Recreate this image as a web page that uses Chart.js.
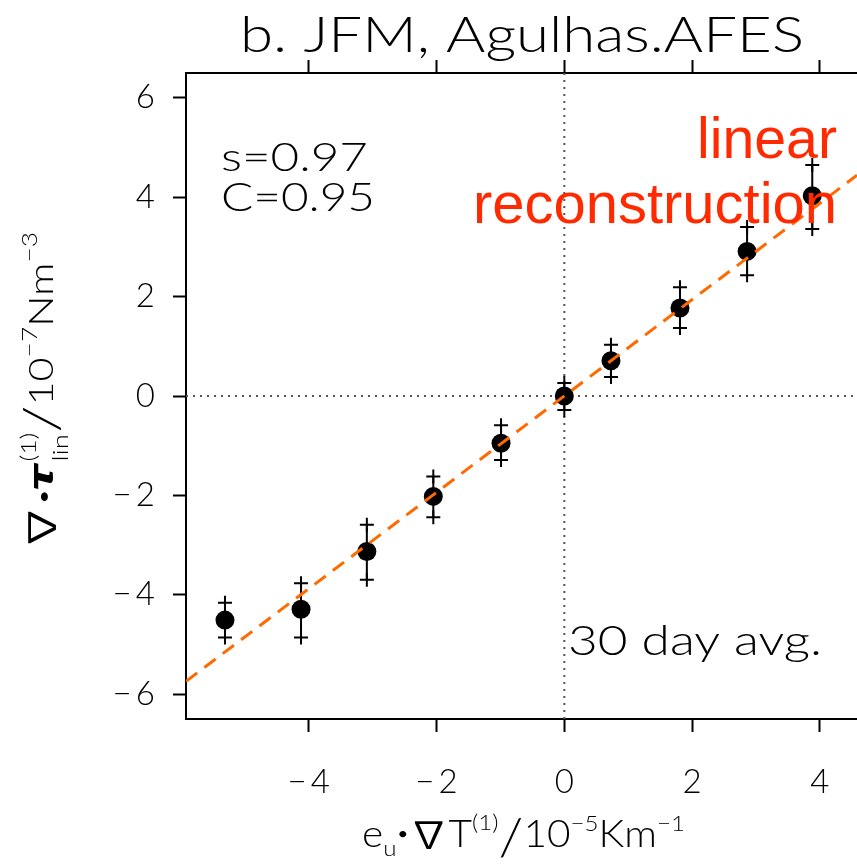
<!DOCTYPE html>
<html><head><meta charset="utf-8">
<script src="https://cdn.jsdelivr.net/npm/chart.js@4"></script>
<style>html,body{margin:0;padding:0;background:#fff;} canvas{display:block;}</style>
</head><body>
<canvas id="c" width="857" height="867"></canvas>
<script>
// ---- data ----
const xValues = [-5.31, -4.12, -3.09, -2.05, -0.99, 0.00, 0.73, 1.81, 2.86, 3.88];
const yValues = [-4.51, -4.29, -3.13, -2.02, -0.95, 0.00, 0.71, 1.77, 2.91, 4.03];
const yUpper  = [-4.16, -3.77, -2.59, -1.62, -0.59, 0.26, 1.03, 2.19, 3.40, 4.65];
const yLower  = [-4.86, -4.86, -3.70, -2.44, -1.29, -0.28, 0.38, 1.37, 2.43, 3.36];
const fitSlope = 0.97;
const xTicks = [-4, -2, 0, 2, 4];
const yTicks = [-6, -4, -2, 0, 2, 4, 6];
const xRange = [-5.92, 4.58];
const yRange = [-6.5, 6.5];
const titleText = "b. JFM, Agulhas.AFES";
const statLines = ["s=0.97", "C=0.95"];
const noteText = "30 day avg.";
const fitLabel = ["linear", "reconstruction"];

const THIN = "Lato";
const fmt = v => (v < 0 ? "\u2212\u2009" + Math.abs(v) : String(v));

const points = xValues.map((x, i) => ({x, y: yValues[i]}));
const upperPts = xValues.map((x, i) => ({x, y: yUpper[i]}));
const lowerPts = xValues.map((x, i) => ({x, y: yLower[i]}));
const errSegs = xValues.flatMap((x, i) => [{x, y: yLower[i]}, {x, y: yUpper[i]}, {x, y: null}]);
const fitPts = xRange.map(x => ({x, y: fitSlope * x}));
const zeroH = xRange.map(x => ({x, y: 0}));
const zeroV = yRange.map(y => ({x: 0, y}));

function fontStr(p){
  return (p.style || "normal") + " " + (p.w || "300") + " " + p.s + "px " + (p.f ? '"' + p.f + '"' : THIN);
}
function partWidth(ctx, p){
  if (p.stack) return Math.max(...p.stack.map(q => partWidth(ctx, q)));
  ctx.font = fontStr(p);
  return ctx.measureText(p.t).width + (p.gap || 0);
}
function drawRich(ctx, parts, cx, cy, target, rotate){
  ctx.save();
  ctx.translate(cx, cy);
  if (rotate) ctx.rotate(-Math.PI / 2);
  const w = parts.reduce((a, p) => a + partWidth(ctx, p), 0);
  const sx = target ? target / w : 1;
  ctx.scale(sx, 1);
  ctx.textAlign = "left"; ctx.textBaseline = "alphabetic"; ctx.fillStyle = "#000";
  let x = -w / 2;
  for (const p of parts){
    const list = p.stack ? p.stack : [p];
    for (const q of list){ ctx.font = fontStr(q); ctx.fillText(q.t, x + (q.dx || 0), q.dy || 0); }
    x += partWidth(ctx, p);
  }
  ctx.restore();
}
function drawFit(ctx, text, font, color, x, y, target, align){
  ctx.save();
  ctx.font = font; ctx.fillStyle = color; ctx.textBaseline = "alphabetic"; ctx.textAlign = "left";
  const w = ctx.measureText(text).width;
  const sx = target / w;
  let left = align === "right" ? x - target : align === "center" ? x - target / 2 : x;
  ctx.translate(left, y); ctx.scale(sx, 1);
  ctx.fillText(text, 0, 0);
  ctx.restore();
}

const NABLA = "Noto Sans CJK JP";
const yTitleParts = [
  {t: "\u2207", f: NABLA, s: 36, w: "normal", dy: 2},
  {t: "\u2022", f: "DejaVu Sans", s: 20, w: "bold", dy: -1, gap: -2},
  {t: "\u03C4", f: "DejaVu Sans", s: 34, w: "bold", style: "italic", gap: 2},
  {stack: [{t: "(1)", s: 21, dy: -17}, {t: "lin", s: 22, dy: 15}]},
  {t: "/", s: 50, dy: 6},
  {t: "10", s: 33},
  {t: "\u22127", s: 21, dy: -16},
  {t: "Nm", s: 33},
  {t: "\u22123", s: 21, dy: -16}
];
const xTitleParts = [
  {t: "e", s: 37},
  {t: "u", s: 22, dy: 9},
  {t: "\u2022", f: "DejaVu Sans", s: 18, w: "bold", dy: -6},
  {t: "\u2207", f: NABLA, s: 36, w: "normal", dy: 1},
  {t: "T", s: 37},
  {t: "(1)", s: 22, dy: -17},
  {t: "/", s: 52, dy: 8},
  {t: "10", s: 37},
  {t: "\u22125", s: 22, dy: -16},
  {t: "Km", s: 37},
  {t: "\u22121", s: 22, dy: -16}
];

const textPlugin = {
  id: "texts",
  afterDraw(chart){
    const ctx = chart.ctx;
    drawFit(ctx, titleText, "300 50px " + THIN, "#000", 522, 52, 564, "center");
    drawFit(ctx, statLines[0], "300 39px " + THIN, "#000", 221, 171, 147, "left");
    drawFit(ctx, statLines[1], "300 39px " + THIN, "#000", 221, 211, 154, "left");
    drawFit(ctx, noteText, "300 42px " + THIN, "#000", 568, 655, 254, "left");
    drawFit(ctx, fitLabel[0], "58px 'Liberation Sans'", "#ff2a00", 837, 158, 140, "right");
    drawFit(ctx, fitLabel[1], "58px 'Liberation Sans'", "#ff2a00", 837, 223, 364, "right");
    drawRich(ctx, yTitleParts, 53, 391, 318, true);
    drawRich(ctx, xTitleParts, 523.5, 847, 323, false);
  }
};

const tickFont = {family: THIN, size: 33, weight: 300};
const gridOpts = {drawOnChartArea: false, drawTicks: true, tickLength: 13, tickWidth: 2, tickColor: "#000"};
const borderOpts = {display: true, color: "#000", width: 2};
const noPad = s => { s.paddingLeft = 0; s.paddingRight = 0; s.paddingTop = 0; s.paddingBottom = 0; };

new Chart(document.getElementById("c"), {
  type: "scatter",
  data: {
    datasets: [
      {label: "fit", data: fitPts, showLine: true, pointRadius: 0, borderColor: "#ff6a00", borderWidth: 3, borderDash: [14, 9], order: 0},
      {label: "upper", data: upperPts, pointStyle: "cross", pointRadius: 7, borderColor: "#000", borderWidth: 2, order: 1},
      {label: "lower", data: lowerPts, pointStyle: "cross", pointRadius: 7, borderColor: "#000", borderWidth: 2, order: 1},
      {label: "mean", data: points, pointRadius: 9.5, backgroundColor: "#000", borderWidth: 0, order: 2},
      {label: "err", data: errSegs, showLine: true, spanGaps: false, pointRadius: 0, borderColor: "#000", borderWidth: 2, order: 3},
      {label: "zeroH", data: zeroH, showLine: true, pointRadius: 0, borderColor: "#555", borderWidth: 2, borderDash: [2, 5], order: 4},
      {label: "zeroV", data: zeroV, showLine: true, pointRadius: 0, borderColor: "#555", borderWidth: 2, borderDash: [2, 5], order: 4}
    ]
  },
  options: {
    responsive: false, animation: false, devicePixelRatio: 1,
    layout: {padding: 0, autoPadding: false},
    plugins: {legend: {display: false}, tooltip: {enabled: false}, title: {display: false}},
    scales: {
      x: {
        type: "linear", position: "bottom", min: xRange[0], max: xRange[1],
        afterBuildTicks: s => { s.ticks = xTicks.map(v => ({value: v})); },
        afterFit: s => { s.height = 148; noPad(s); },
        ticks: {font: tickFont, color: "#000", padding: 31, maxRotation: 0, autoSkip: false, callback: fmt},
        grid: gridOpts, border: borderOpts
      },
      xTop: {
        type: "linear", position: "top", min: xRange[0], max: xRange[1],
        afterBuildTicks: s => { s.ticks = xTicks.map(v => ({value: v})); },
        afterFit: s => { s.height = 73; noPad(s); },
        ticks: {display: false},
        grid: gridOpts, border: borderOpts
      },
      y: {
        type: "linear", position: "left", min: yRange[0], max: yRange[1],
        afterBuildTicks: s => { s.ticks = yTicks.map(v => ({value: v})); },
        afterFit: s => { s.width = 186; noPad(s); },
        ticks: {font: tickFont, color: "#000", padding: 18, autoSkip: false, callback: fmt},
        grid: gridOpts, border: borderOpts
      }
    }
  },
  plugins: [textPlugin]
});
</script>
</body></html>
